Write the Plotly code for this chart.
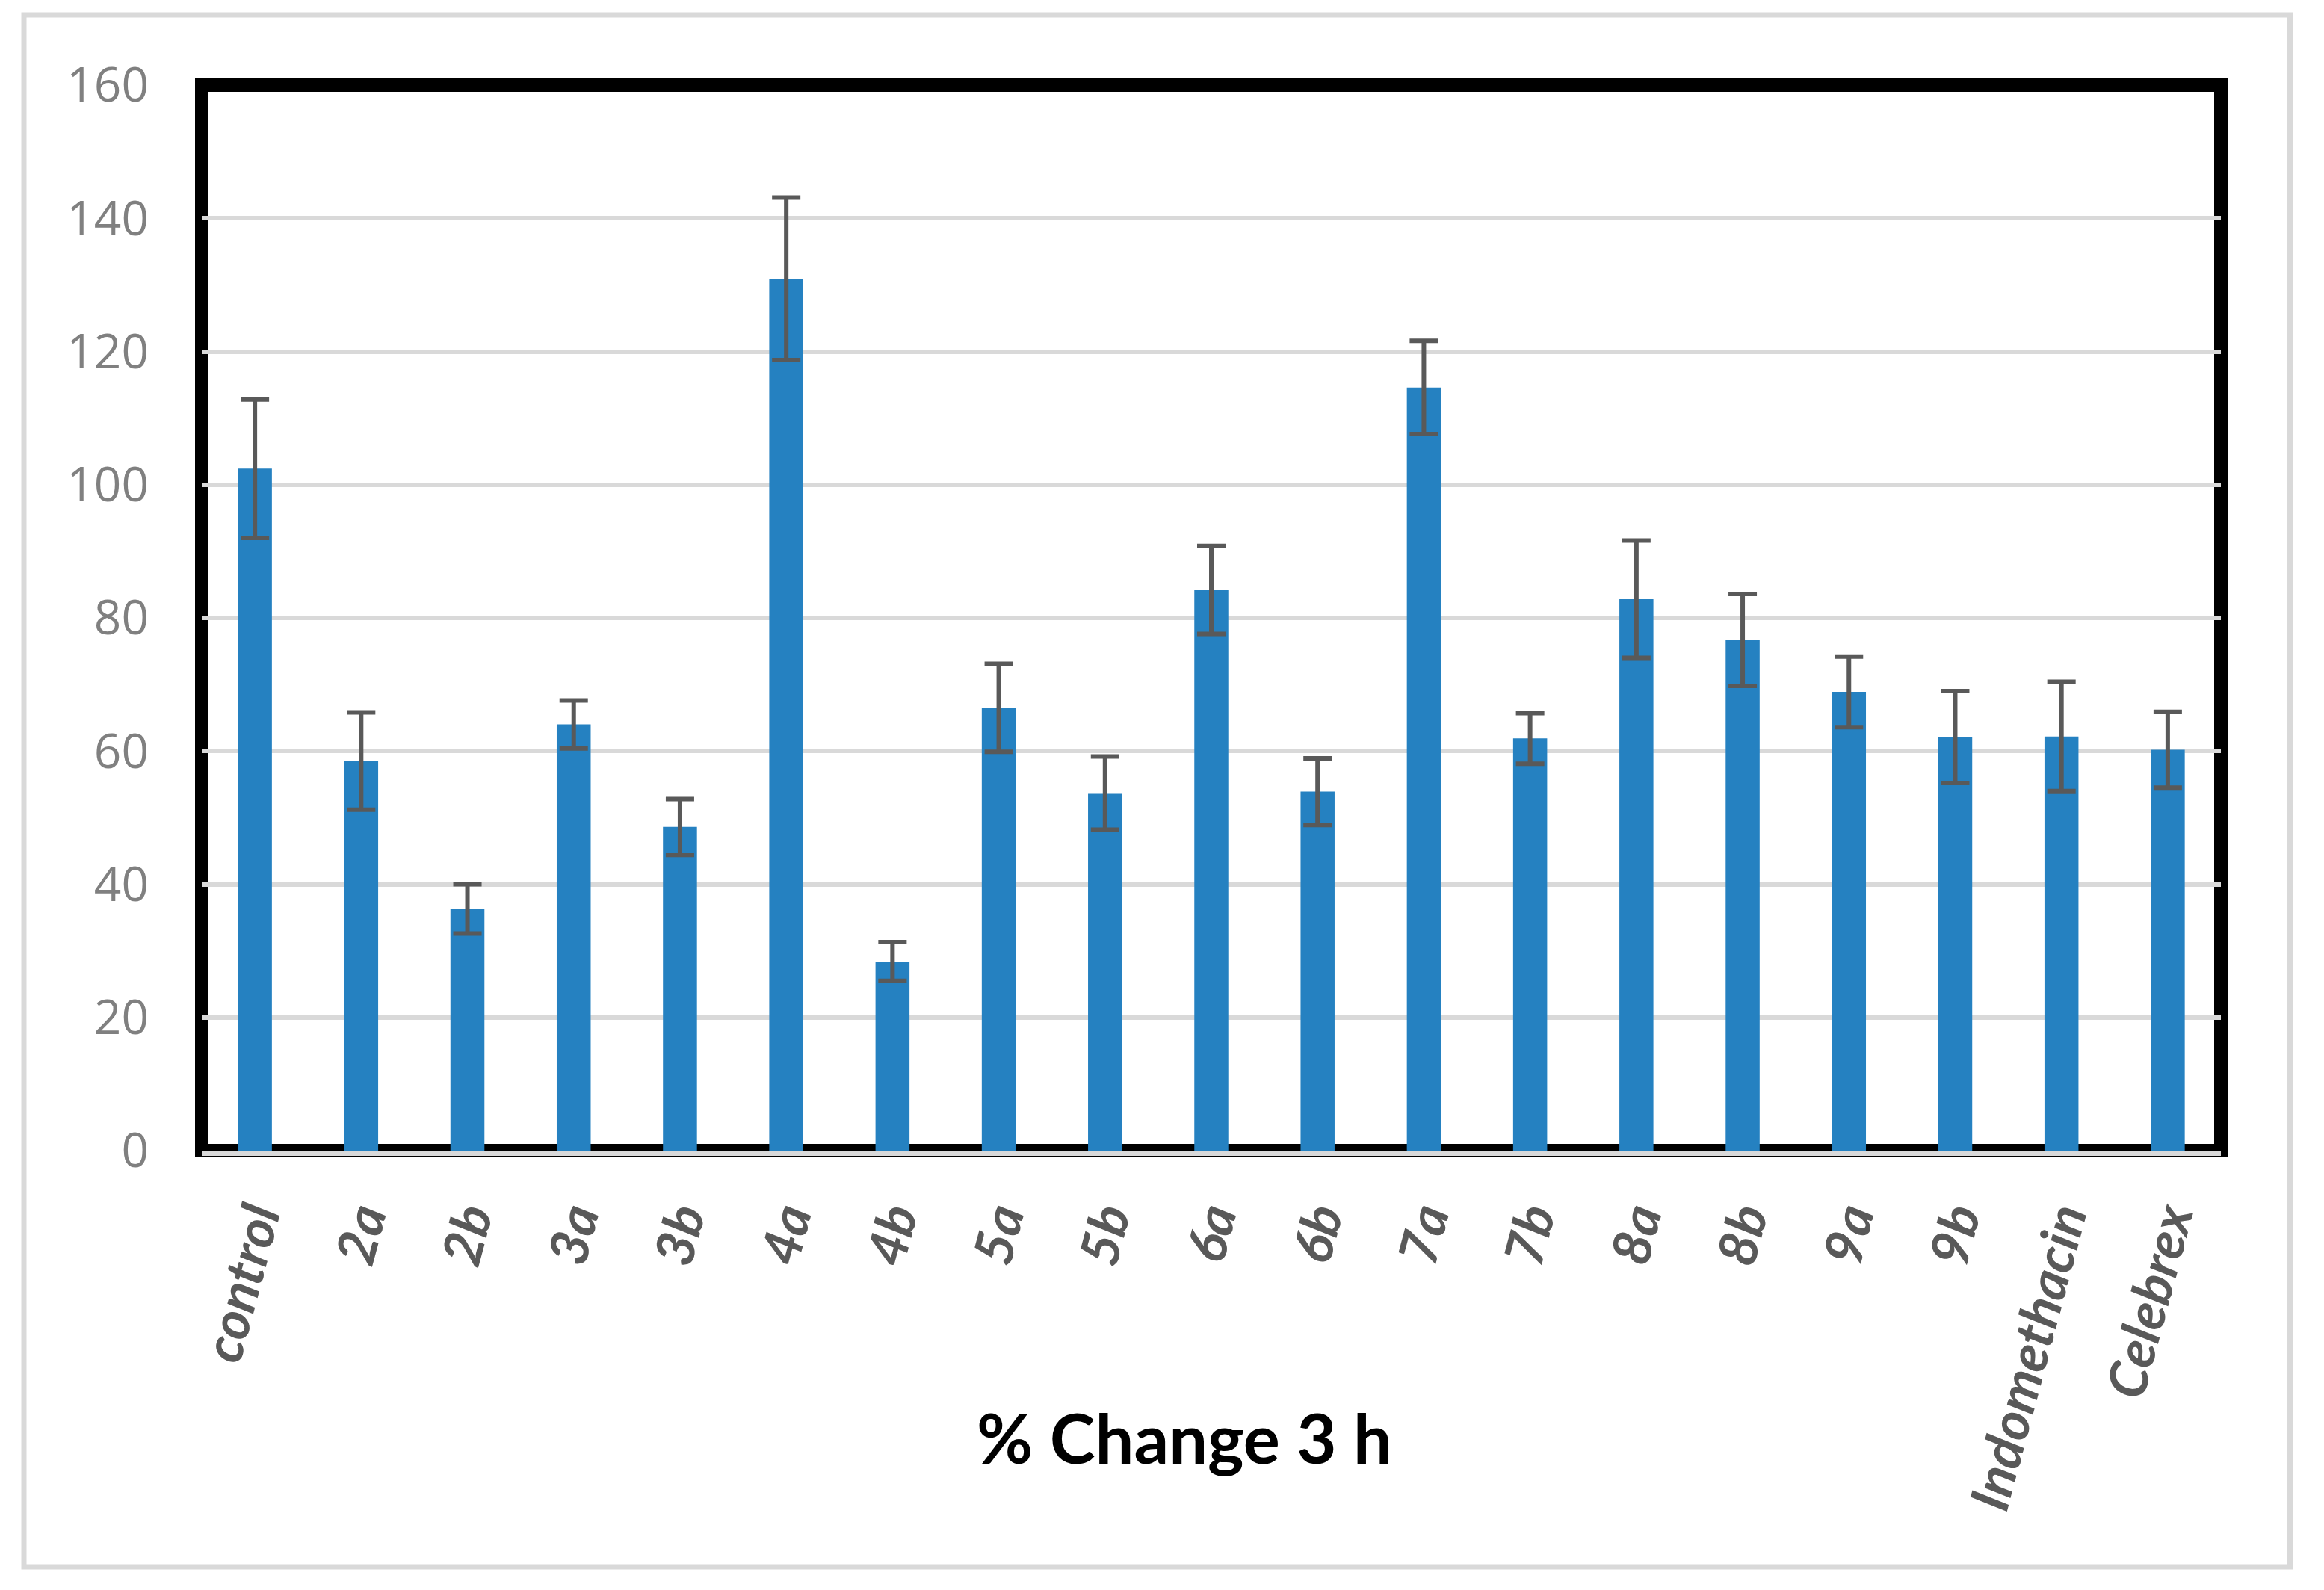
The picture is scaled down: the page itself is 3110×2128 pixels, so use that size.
import plotly.graph_objects as go

categories = ["control", "2a", "2b", "3a", "3b", "4a", "4b", "5a", "5b", "6a",
              "6b", "7a", "7b", "8a", "8b", "9a", "9b", "Indomethacin", "Celebrex"]
values = [102.4, 58.5, 36.3, 64.0, 48.6, 130.9, 28.4, 66.5, 53.7, 84.2,
          53.9, 114.6, 61.9, 82.8, 76.7, 68.9, 62.1, 62.2, 60.2]
errors = [10.4, 7.3, 3.7, 3.6, 4.2, 12.2, 2.9, 6.6, 5.5, 6.6,
          5.0, 7.0, 3.8, 8.8, 6.9, 5.3, 6.9, 8.2, 5.7]
y_ticks = [0, 20, 40, 60, 80, 100, 120, 140, 160]
x_title = "% Change 3 h"

W, H = 3110, 2128
ML, MR, MT, MB = 270, 138, 114, 588
PW, PH = W - ML - MR, H - MT - MB


def px_x(p):
    return (p - ML) / PW


def px_y(p):
    return (H - MB - p) / PH


fig = go.Figure()
fig.add_trace(go.Bar(
    x=categories, y=values,
    marker=dict(color="#2581C1", line=dict(width=0)),
    error_y=dict(type="data", array=errors, symmetric=True,
                 color="#595959", thickness=6, width=19),
))

fig.update_layout(
    width=W, height=H,
    margin=dict(l=ML, r=MR, t=MT, b=MB, pad=0),
    paper_bgcolor="white", plot_bgcolor="white",
    bargap=0.68,
    showlegend=False,
    xaxis=dict(
        type="category",
        tickangle=-75,
        tickfont=dict(family="Lato", size=72, color="#595959",
                      weight="bold", style="italic"),
        showline=True, linecolor="#d9d9d9", linewidth=7,
        showgrid=False, ticks="",
        ticklabelstandoff=14,
    ),
    yaxis=dict(
        range=[0, 160],
        tickvals=y_ticks,
        tickfont=dict(family="Open Sans", size=64, color="#808080"),
        showgrid=True, gridcolor="#d9d9d9", gridwidth=6,
        zeroline=False, showline=False, ticks="",
        ticklabelstandoff=70,
    ),
    shapes=[
        dict(type="rect", xref="paper", yref="paper",
             x0=px_x(32), x1=px_x(3064.5), y0=px_y(2097), y1=px_y(20),
             line=dict(color="#d9d9d9", width=7), fillcolor="rgba(0,0,0,0)",
             layer="below"),
        dict(type="rect", xref="paper", yref="paper",
             x0=0, x1=1, y0=0, y1=1,
             line=dict(color="black", width=18), fillcolor="rgba(0,0,0,0)",
             layer="between"),
    ],
    annotations=[
        dict(text=x_title, xref="paper", yref="paper",
             x=px_x(1585), y=px_y(1923), xanchor="center", yanchor="middle",
             showarrow=False,
             font=dict(family="Lato", size=92, color="black", weight="bold")),
    ],
)

fig.write_html("out.html", config={"displayModeBar": False},
               post_script="document.body.style.margin='0';")
